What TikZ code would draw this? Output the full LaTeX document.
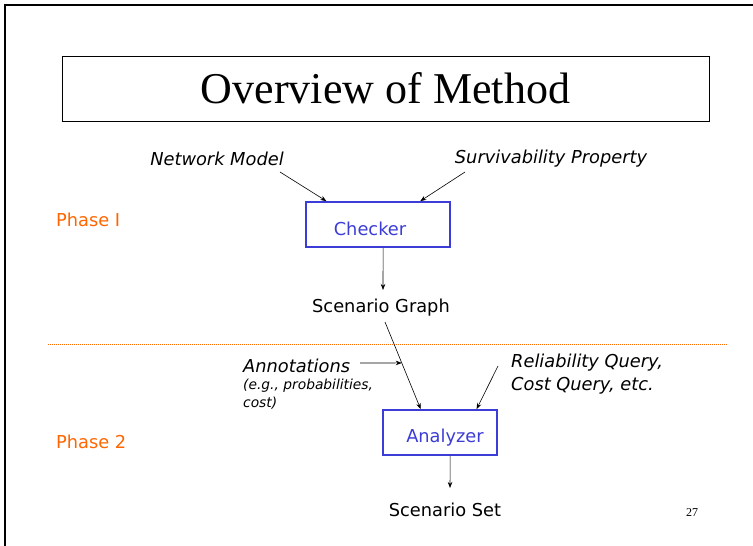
\documentclass[tikz,border=0pt]{standalone}
\usepackage{fontspec}
\setmainfont{DejaVu Sans}
\newfontfamily\titlefont{Liberation Serif}
\usetikzlibrary{calc,arrows.meta}
\definecolor{boxblue}{RGB}{60,60,215}
\definecolor{phaseorange}{RGB}{255,102,0}
\begin{document}
\begin{tikzpicture}[x=1pt,y=-1pt,
  txt/.style={inner sep=0pt, font=\fontsize{17.8}{21}\selectfont},
  itxt/.style={inner sep=0pt, font=\fontsize{17.8}{23}\selectfont\itshape},
  smalltxt/.style={inner sep=0pt, align=left, font=\fontsize{13.8}{18}\selectfont\itshape},
  phase/.style={txt, text=phaseorange},
  procbox/.style={draw=boxblue, line width=1.8pt, inner sep=0pt},
  proclabel/.style={txt, text=boxblue},
  conn/.style={-{Stealth[length=6pt,width=4.5pt]}, line width=0.6pt},
]
\useasboundingbox (0,0) rectangle (753,546);

% slide frame (top and left edges)
\draw[line width=2pt] (5,546) -- (5,5) -- (753,5);

% title
\node[draw, line width=0.8pt, minimum width=647pt, minimum height=65pt, inner sep=0pt,
      font=\titlefont\fontsize{44}{50}\selectfont] (title) at (385.5,88.5) {Overview of Method};

% phase 1
\node[phase, anchor=west] (ph1) at (56,220) {Phase I};
\node[itxt] (nm) at (217,159) {Network Model};
\node[itxt] (sp) at (551,159) {Survivability Property};
\node[procbox, minimum width=144pt, minimum height=45pt] (checker) at (378,224.5) {};
\node[proclabel] (checkerlbl) at (370,229) {Checker};
\node[txt] (sg) at (381,308) {Scenario Graph};

\coordinate (nmout) at (280,172);
\coordinate (spout) at (465,172);
\draw[conn] (nmout) -- ($(checker.north west)!0.146!(checker.north east)$);
\draw[conn] (spout) -- ($(checker.north west)!0.79!(checker.north east)$);
\draw[conn] ($(checker.south west)!0.535!(checker.south east)$) -- (383,290);

% phase separator
\draw[phaseorange, line width=0.6pt, dash pattern=on 1pt off 1pt] (48,344) -- (728,344);

% phase 2
\node[phase, anchor=west] (ph2) at (56,442) {Phase 2};
\node[itxt, anchor=west] (ann) at (243,366) {Annotations};
\node[smalltxt, anchor=north west] (anneg) at (243,378.5) {(e.g., probabilities,\\cost)};
\node[itxt, anchor=west, align=left] (rq) at (511,374.5) {Reliability Query,\\Cost Query, etc.};
\node[procbox, minimum width=114pt, minimum height=45pt] (analyzer) at (440,432.5) {};
\node[proclabel] (analyzerlbl) at (445,438) {Analyzer};
\node[txt] (ss) at (445,510) {Scenario Set};

\coordinate (sgout) at (385,322);
\coordinate (annout) at (360,363);
\coordinate (rqout) at (498,366);
\draw[conn] (sgout) -- coordinate[pos=0.47] (join) ($(analyzer.north west)!0.333!(analyzer.north east)$);
\draw[conn] (annout) -- (join);
\draw[conn] (rqout) -- ($(analyzer.north west)!0.816!(analyzer.north east)$);
\draw[conn] ($(analyzer.south west)!0.588!(analyzer.south east)$) -- (450,488);

% page number
\node[inner sep=0pt, font=\titlefont\fontsize{12}{14}\selectfont] (pageno) at (692,513) {27};
\end{tikzpicture}
\end{document}
